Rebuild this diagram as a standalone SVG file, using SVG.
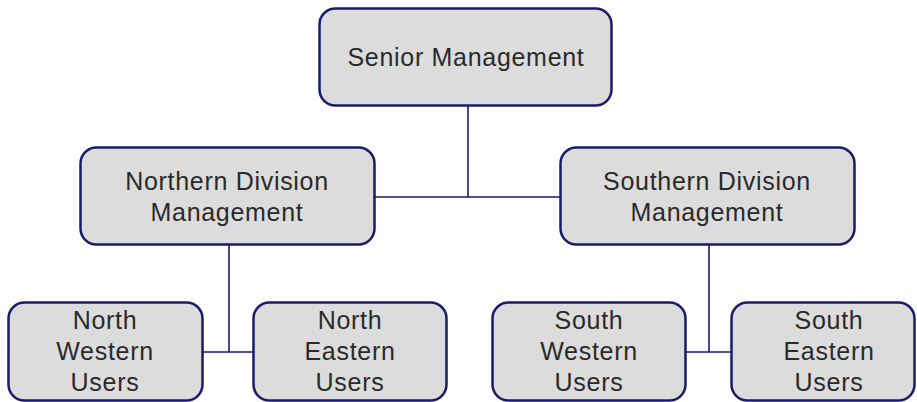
<svg xmlns="http://www.w3.org/2000/svg" width="917" height="402" viewBox="0 0 917 402">
<style>
.box{fill:#dcdcdc;stroke:#1b1b6b;stroke-width:2.5}
.t{font-family:"Liberation Sans",Arial,sans-serif;font-size:25px;fill:#2a2a2a;text-anchor:middle;letter-spacing:0.7px}
.c{stroke:#1b1b6b;stroke-width:1.6;fill:none}
</style>
<rect width="917" height="402" fill="#ffffff"/>
<g id="connectors">
<path class="c" d="M468 106V197M375 197H560"/>
<path class="c" d="M229 245V352M203 352H253"/>
<path class="c" d="M709 245V352M686 352H731"/>
</g>
<g id="senior">
<rect class="box" x="319.5" y="8.5" width="292" height="97" rx="16"/>
<text class="t" x="466" y="66">Senior Management</text>
</g>
<g id="northern">
<rect class="box" x="80.5" y="147.5" width="294" height="97" rx="16"/>
<text class="t" x="227" y="190">Northern Division</text>
<text class="t" x="227" y="221">Management</text>
</g>
<g id="southern">
<rect class="box" x="560.5" y="147.5" width="294" height="97" rx="16"/>
<text class="t" x="707" y="190">Southern Division</text>
<text class="t" x="707" y="221">Management</text>
</g>
<g id="north-western">
<rect class="box" x="8.5" y="302.5" width="194" height="98" rx="16"/>
<text class="t" x="105" y="329">North</text>
<text class="t" x="105" y="360">Western</text>
<text class="t" x="105" y="391">Users</text>
</g>
<g id="north-eastern">
<rect class="box" x="253.5" y="302.5" width="193" height="98" rx="16"/>
<text class="t" x="350" y="329">North</text>
<text class="t" x="350" y="360">Eastern</text>
<text class="t" x="350" y="391">Users</text>
</g>
<g id="south-western">
<rect class="box" x="492.5" y="302.5" width="193" height="98" rx="16"/>
<text class="t" x="589" y="329">South</text>
<text class="t" x="589" y="360">Western</text>
<text class="t" x="589" y="391">Users</text>
</g>
<g id="south-eastern">
<rect class="box" x="731.5" y="302.5" width="183" height="98" rx="16"/>
<text class="t" x="829" y="329">South</text>
<text class="t" x="829" y="360">Eastern</text>
<text class="t" x="829" y="391">Users</text>
</g>
</svg>
